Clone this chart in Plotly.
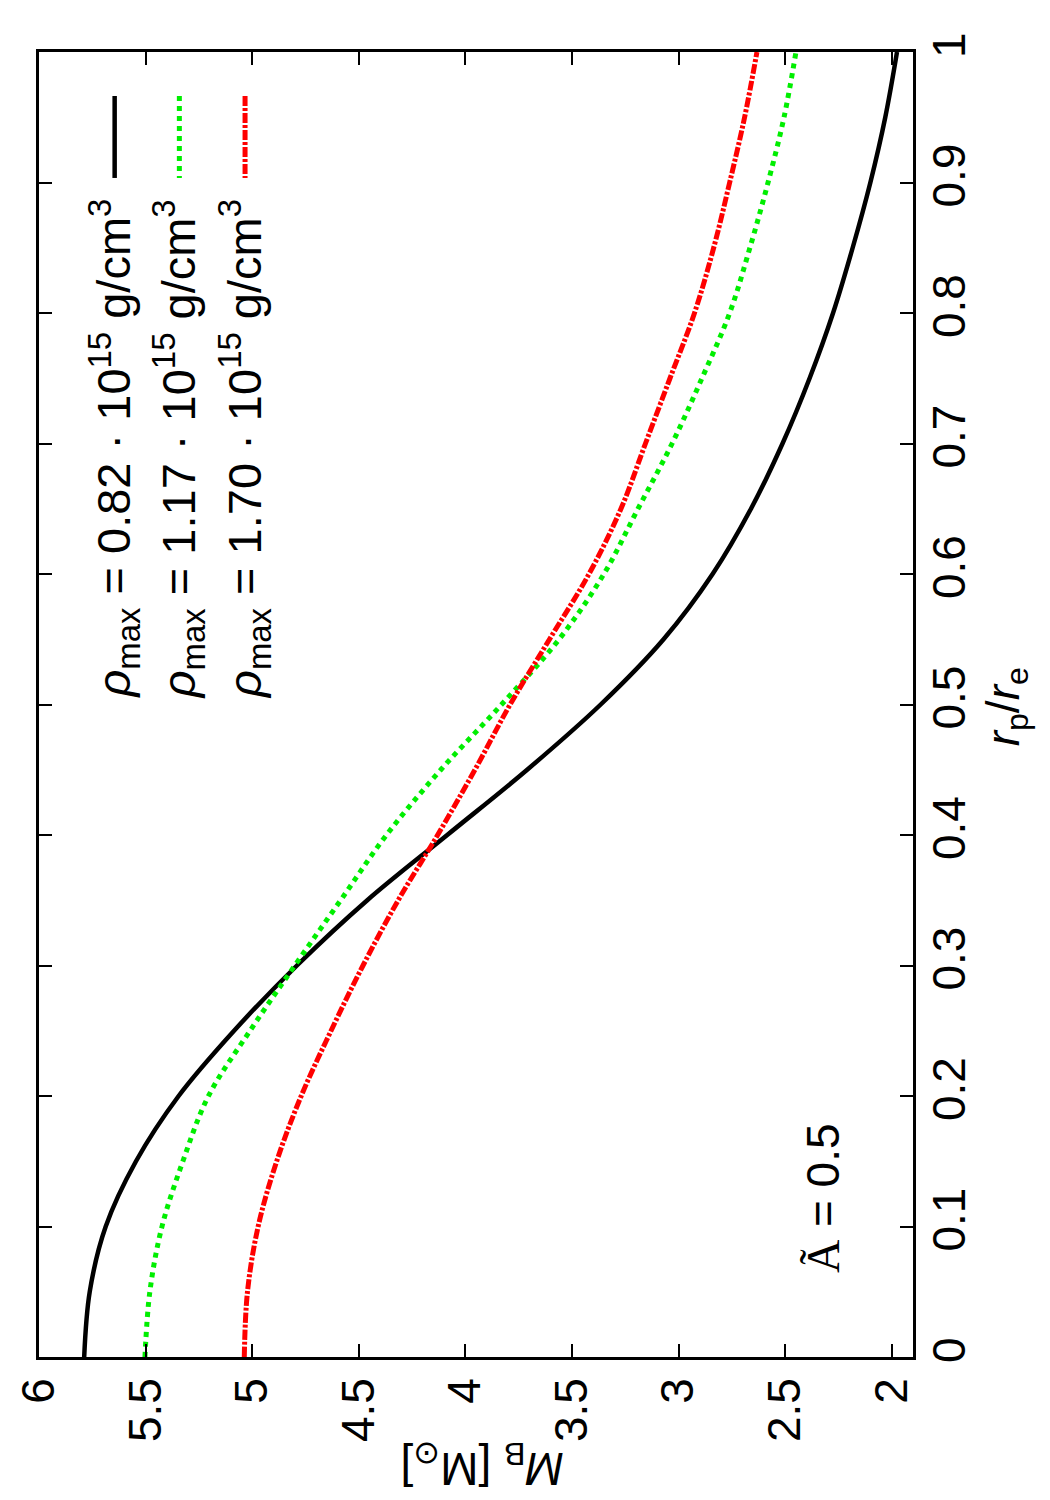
import plotly.graph_objects as go

# ---- data (r_p/r_e, M_B [M_sun]) ----
r_grid = [0.0, 0.05, 0.1, 0.15, 0.2, 0.25, 0.3, 0.35, 0.4, 0.45, 0.5,
          0.55, 0.6, 0.65, 0.7, 0.75, 0.8, 0.85, 0.9, 0.95, 1.0]

M_black = [5.788, 5.762, 5.687, 5.545, 5.345, 5.085, 4.790, 4.460, 4.085, 3.710, 3.365,
           3.070, 2.840, 2.660, 2.512, 2.385, 2.275, 2.183, 2.100, 2.030, 1.975]

M_green = [5.503, 5.480, 5.423, 5.325, 5.205, 5.010, 4.800, 4.585, 4.370, 4.115, 3.830,
           3.560, 3.350, 3.190, 3.030, 2.890, 2.760, 2.665, 2.580, 2.505, 2.449]

M_red = [5.037, 5.022, 4.972, 4.885, 4.770, 4.630, 4.480, 4.315, 4.130, 3.955, 3.790,
         3.605, 3.420, 3.270, 3.155, 3.040, 2.925, 2.835, 2.760, 2.690, 2.632]

M_ticks = [6, 5.5, 5, 4.5, 4, 3.5, 3, 2.5, 2]
M_ticktext = ["6", "5.5", "5", "4.5", "4", "3.5", "3", "2.5", "2"]
r_ticks = [0, 0.1, 0.2, 0.3, 0.4, 0.5, 0.6, 0.7, 0.8, 0.9, 1]
r_ticktext = ["0", "0.1", "0.2", "0.3", "0.4", "0.5", "0.6", "0.7", "0.8", "0.9", "1"]

legend_labels = [
    "<i>ρ</i><sub>max</sub> = 0.82 · 10<sup>15</sup> g/cm<sup>3</sup>",
    "<i>ρ</i><sub>max</sub> = 1.17 · 10<sup>15</sup> g/cm<sup>3</sup>",
    "<i>ρ</i><sub>max</sub> = 1.70 · 10<sup>15</sup> g/cm<sup>3</sup>",
]
colors = ["#000000", "#00ee00", "#ff0000"]
dashes = ["solid", "dot", "10px,2px,3px,2px"]
widths = [4.5, 5, 5]

FONT = "Liberation Sans, Arial, sans-serif"
FS = 46

fig = go.Figure()
for mm, c, d, w in zip([M_black, M_green, M_red], colors, dashes, widths):
    fig.add_trace(go.Scatter(x=mm, y=r_grid, mode="lines",
                             line=dict(color=c, dash=d, width=w, shape="spline", smoothing=1.0),
                             showlegend=False, hoverinfo="skip"))

fig.update_layout(
    width=1050, height=1500,
    margin=dict(l=35, r=137, t=52, b=143),
    paper_bgcolor="white", plot_bgcolor="white",
    font=dict(family=FONT, size=FS, color="black"),
    xaxis=dict(range=[6, 1.9], tickmode="array", tickvals=M_ticks, ticktext=M_ticktext,
               tickangle=-90, ticks="inside", ticklen=13, tickwidth=2, tickcolor="black",
               showline=True, linecolor="black", linewidth=2.5, mirror="ticks",
               showgrid=False, zeroline=False, ticklabelstandoff=0),
    yaxis=dict(range=[0, 1], tickmode="array", tickvals=r_ticks, ticktext=r_ticktext,
               side="right", tickangle=-90, ticks="inside", ticklen=13, tickwidth=2,
               tickcolor="black", showline=True, linecolor="black", linewidth=2.5,
               mirror="ticks", showgrid=False, zeroline=False, ticklabelstandoff=-6),
)

# plot-area pixel helpers for annotations (paper coordinates)
PL, PR, PT, PB = 35, 913, 52, 1357.4
def px(x):
    return (x - PL) / (PR - PL)
def py(y):
    return (PB - y) / (PB - PT)

# axis titles
fig.add_annotation(text="<i>r</i><sub>p</sub>/<i>r</i><sub>e</sub>", textangle=-90,
                   x=px(1007), y=py(707), xref="paper", yref="paper", showarrow=False,
                   xanchor="center", yanchor="middle", font=dict(size=FS))
fig.add_annotation(text="<i>M</i><sub>B</sub> [M<sub>⊙</sub>]", textangle=180,
                   x=px(480), y=py(1466), xref="paper", yref="paper", showarrow=False,
                   xanchor="center", yanchor="middle", font=dict(size=FS))

# legend (rotated text + sample lines)
leg_x = [111, 176, 242]
for lab, c, d, w, lx in zip(legend_labels, colors, dashes, widths, leg_x):
    fig.add_annotation(text=lab, textangle=-90, x=px(lx), y=py(197), xref="paper", yref="paper",
                       showarrow=False, xanchor="center", yanchor="top", font=dict(size=FS + 1))
    fig.add_shape(type="line", xref="paper", yref="paper", x0=px(lx), x1=px(lx),
                  y0=py(96), y1=py(178), line=dict(color=c, dash=d, width=w))

# parameter label
fig.add_annotation(text="<span style='font-family:Liberation Serif'>Ã</span> = 0.5", textangle=-90,
                   x=px(822), y=py(1198), xref="paper", yref="paper", showarrow=False,
                   xanchor="center", yanchor="middle", font=dict(size=FS))

fig.write_html("out.html")
